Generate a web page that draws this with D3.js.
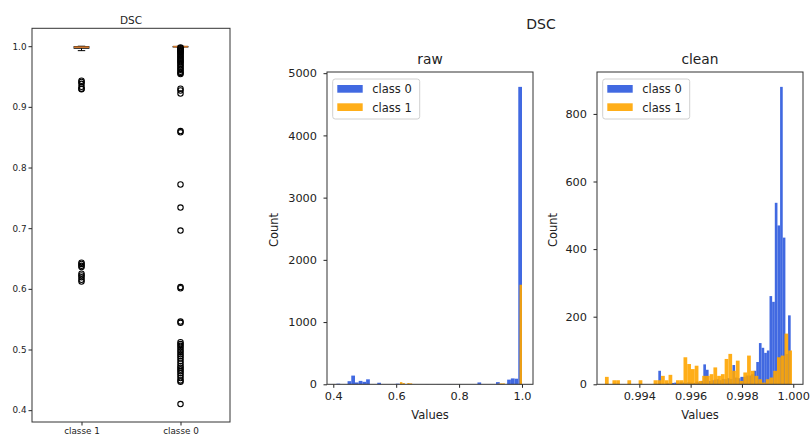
<!DOCTYPE html>
<html>
<head>
<meta charset="utf-8">
<script src="https://cdn.jsdelivr.net/npm/d3@7"></script>
<style>
  body { margin: 0; background: #fff; }
  svg { display: block; }
  text { font-family: "DejaVu Sans", sans-serif; fill: #222; }
</style>
</head>
<body>
<svg id="fig" width="811" height="439"></svg>
<script>
// ---------- box plot data (DSC per class) ----------
const boxCategories = ["classe 1", "classe 0"];
// [lower whisker, Q1, median, Q3, upper whisker]
const classe1Box = [0.99266, 0.9966, 0.9984, 0.99935, 0.99995];
const classe0Box = [0.9983, 0.99905, 0.99935, 0.99955, 0.99995];
const classe1Fliers = [0.943, 0.941, 0.938, 0.933, 0.930, 0.929,
  0.643, 0.641, 0.638, 0.636, 0.625, 0.622, 0.619, 0.615, 0.612];
const classe0Fliers = [0.9978, 0.9965, 0.995, 0.9935, 0.992, 0.9905, 0.989, 0.987,
  0.985, 0.983, 0.981, 0.979, 0.977, 0.975, 0.973, 0.971, 0.968, 0.966, 0.963,
  0.961, 0.958, 0.956, 0.954, 0.930, 0.927, 0.922, 0.860, 0.858, 0.772, 0.734,
  0.696, 0.603, 0.601, 0.546, 0.544, 0.512, 0.509, 0.506, 0.503, 0.499, 0.496,
  0.492, 0.489, 0.485, 0.481, 0.477, 0.473, 0.470, 0.467, 0.464, 0.461, 0.457,
  0.453, 0.449, 0.447, 0.410];
const boxYTicks = [0.4, 0.5, 0.6, 0.7, 0.8, 0.9, 1.0];

// ---------- histogram data: 50 equal bins over each series' range ----------
const rawClass0Range = [0.41, 1.0];
const rawClass0Counts = [10, 0, 0, 50, 140, 30, 55, 40, 80, 0,
  0, 25, 0, 0, 0, 0, 10, 0, 0, 0,
  0, 0, 0, 0, 2, 0, 0, 2, 0, 0,
  2, 0, 0, 0, 0, 0, 0, 0, 30, 0,
  0, 0, 0, 35, 5, 0, 75, 95, 90, 4780];
const rawClass1Range = [0.612, 1.0];
const rawClass1Counts = [35, 20, 0, 20, 15, 0, 0, 0, 0, 0,
  0, 0, 0, 0, 0, 0, 0, 0, 0, 0,
  0, 0, 0, 0, 0, 0, 0, 0, 0, 0,
  0, 0, 0, 0, 0, 0, 0, 0, 0, 0,
  10, 15, 15, 0, 0, 0, 0, 0, 0, 1600];

const cleanClass0Range = [0.99474, 0.9999];
const cleanClass0Counts = [40, 0, 0, 3, 0, 4, 5, 3, 6, 5,
  4, 6, 5, 4, 8, 6, 10, 59, 43, 10,
  12, 14, 15, 12, 16, 15, 18, 16, 57, 20,
  18, 22, 22, 26, 26, 30, 40, 66, 122, 108,
  93, 100, 261, 244, 537, 470, 880, 434, 90, 204];
const cleanClass1Range = [0.99266, 0.99995];
const cleanClass1Counts = [22, 0, 12, 12, 0, 0, 12, 0, 0, 12,
  0, 0, 0, 12, 12, 25, 12, 28, 0, 12,
  12, 80, 60, 45, 55, 10, 25, 25, 30, 50,
  25, 30, 75, 90, 40, 70, 10, 35, 85, 40,
  25, 15, 5, 15, 20, 40, 80, 85, 150, 100];

const seriesNames = ["class 0", "class 1"];
const seriesColors = ["#4169e1", "#ffa500"];

const rawXDomain = [0.380, 1.035];
const rawXTicks = [0.4, 0.6, 0.8, 1.0];
const rawYTicks = [0, 1000, 2000, 3000, 4000, 5000];
const cleanXDomain = [0.99235, 1.00038];
const cleanXTicks = [0.994, 0.996, 0.998, 1.000];
const cleanYTicks = [0, 200, 400, 600, 800];

// ---------- drawing ----------
const svg = d3.select("#fig");

function styleAxis(g, fontSize) {
  g.select(".domain").remove();
  g.selectAll(".tick line").attr("stroke", "#222").attr("stroke-width", 1);
  g.selectAll(".tick text").attr("fill", "#222").style("font-size", fontSize + "px");
}

// Box plot panel
(function drawBoxPlot() {
  const L = 32, R = 230, T = 28.3, B = 422;
  const x = d3.scaleLinear().domain([0.5, 2.5]).range([L, R]);
  const y = d3.scaleLinear().domain([0.3805, 1.0295]).range([B, T]);
  const g = svg.append("g");

  g.append("g").attr("transform", `translate(${L},0)`)
    .call(d3.axisLeft(y).tickValues(boxYTicks).tickFormat(d3.format(".1f")).tickSize(3.5).tickPadding(2))
    .call(a => styleAxis(a, 8.8));
  g.append("g").attr("transform", `translate(0,${B})`)
    .call(d3.axisBottom(x).tickValues([1, 2]).tickFormat((d, i) => boxCategories[i]).tickSize(3.5).tickPadding(2.5))
    .call(a => styleAxis(a, 8.8));

  const stats = [classe1Box, classe0Box];
  const fliers = [classe1Fliers, classe0Fliers];
  const halfW = 0.075;
  stats.forEach((s, i) => {
    const pos = i + 1;
    const cx = x(pos);
    const wpx = x(pos + halfW) - cx;
    // whiskers
    g.append("line").attr("x1", cx).attr("x2", cx).attr("y1", y(s[0])).attr("y2", y(s[1]))
      .attr("stroke", "#000").attr("stroke-width", 1);
    g.append("line").attr("x1", cx).attr("x2", cx).attr("y1", y(s[3])).attr("y2", y(s[4]))
      .attr("stroke", "#000").attr("stroke-width", 1);
    // caps
    [s[0], s[4]].forEach(v => g.append("line")
      .attr("x1", cx - wpx / 2).attr("x2", cx + wpx / 2).attr("y1", y(v)).attr("y2", y(v))
      .attr("stroke", "#000").attr("stroke-width", 1));
    // box
    g.append("rect").attr("x", cx - wpx).attr("width", 2 * wpx)
      .attr("y", y(s[3])).attr("height", Math.max(0.5, y(s[1]) - y(s[3])))
      .attr("fill", "none").attr("stroke", "#000").attr("stroke-width", 1);
    // median
    g.append("line").attr("x1", cx - wpx).attr("x2", cx + wpx).attr("y1", y(s[2])).attr("y2", y(s[2]))
      .attr("stroke", "#d2772a").attr("stroke-width", 1.6);
    // fliers
    g.selectAll(null).data(fliers[i]).enter().append("circle")
      .attr("cx", cx).attr("cy", d => y(d)).attr("r", 2.7)
      .attr("fill", "none").attr("stroke", "#000").attr("stroke-width", 1.1);
  });

  g.append("rect").attr("x", L).attr("y", T).attr("width", R - L).attr("height", B - T)
    .attr("fill", "none").attr("stroke", "#333").attr("stroke-width", 1);
  g.append("text").attr("x", (L + R) / 2).attr("y", 24).attr("text-anchor", "middle")
    .style("font-size", "10.5px").text("DSC");
})();

function makeBins(range, counts) {
  const w = (range[1] - range[0]) / counts.length;
  return counts.map((c, i) => ({ x0: range[0] + i * w, x1: range[0] + (i + 1) * w, count: c }));
}

function drawHist(opts) {
  const { L, R, T, B, xDomain, xTicks, xFormat, yTicks, series, title, countLabelX } = opts;
  const maxCount = d3.max(series, s => d3.max(s.counts));
  const x = d3.scaleLinear().domain(xDomain).range([L, R]);
  const y = d3.scaleLinear().domain([0, maxCount * 1.05]).range([B, T]);
  const g = svg.append("g");

  series.forEach((s, si) => {
    const bins = makeBins(s.range, s.counts).filter(b => b.count > 0);
    g.append("g").selectAll("rect").data(bins).enter().append("rect")
      .attr("x", b => x(b.x0))
      .attr("width", b => x(b.x1) - x(b.x0))
      .attr("y", b => y(b.count))
      .attr("height", b => y(0) - y(b.count))
      .attr("fill", seriesColors[si])
      .attr("fill-opacity", si === 0 ? 1 : 0.9);
  });

  g.append("g").attr("transform", `translate(0,${B})`)
    .call(d3.axisBottom(x).tickValues(xTicks).tickFormat(xFormat).tickSize(3.5).tickPadding(4.2))
    .call(a => styleAxis(a, 11.3));
  g.append("g").attr("transform", `translate(${L},0)`)
    .call(d3.axisLeft(y).tickValues(yTicks).tickFormat(d3.format("d")).tickSize(3.5).tickPadding(6.5))
    .call(a => styleAxis(a, 11.3));

  g.append("rect").attr("x", L).attr("y", T).attr("width", R - L).attr("height", B - T)
    .attr("fill", "none").attr("stroke", "#333").attr("stroke-width", 1);

  g.append("text").attr("x", (L + R) / 2).attr("y", 64).attr("text-anchor", "middle")
    .style("font-size", "13.8px").text(title);
  g.append("text").attr("x", (L + R) / 2).attr("y", 419).attr("text-anchor", "middle")
    .style("font-size", "11.5px").text("Values");
  g.append("text").attr("transform", `translate(${countLabelX},230) rotate(-90)`)
    .attr("text-anchor", "middle").attr("dy", "0.35em")
    .style("font-size", "11.5px").text("Count");

  // legend
  const lx = L + 5.7, ly = T + 7;
  const lg = g.append("g").attr("transform", `translate(${lx},${ly})`);
  lg.append("rect").attr("width", 87).attr("height", 40).attr("rx", 2.5)
    .attr("fill", "#fff").attr("fill-opacity", 0.8).attr("stroke", "#d0d0d0").attr("stroke-width", 1);
  seriesNames.forEach((name, i) => {
    lg.append("rect").attr("x", 4.6).attr("y", 6 + i * 18.3).attr("width", 25.4).attr("height", 7.7)
      .attr("fill", seriesColors[i]).attr("fill-opacity", i === 0 ? 1 : 0.9);
    lg.append("text").attr("x", 39.6).attr("y", 14.3 + i * 18.3)
      .style("font-size", "11.5px").text(name);
  });
}

drawHist({
  L: 327, R: 533, T: 72, B: 384.3,
  xDomain: rawXDomain, xTicks: rawXTicks, xFormat: d3.format(".1f"), yTicks: rawYTicks,
  series: [
    { range: rawClass0Range, counts: rawClass0Counts },
    { range: rawClass1Range, counts: rawClass1Counts }
  ],
  title: "raw", countLabelX: 274
});

drawHist({
  L: 597, R: 803, T: 72, B: 384.3,
  xDomain: cleanXDomain, xTicks: cleanXTicks, xFormat: d3.format(".3f"), yTicks: cleanYTicks,
  series: [
    { range: cleanClass0Range, counts: cleanClass0Counts },
    { range: cleanClass1Range, counts: cleanClass1Counts }
  ],
  title: "clean", countLabelX: 553
});

// figure title over the two histograms
svg.append("text").attr("x", 541).attr("y", 29).attr("text-anchor", "middle")
  .style("font-size", "14px").text("DSC");
</script>
</body>
</html>
